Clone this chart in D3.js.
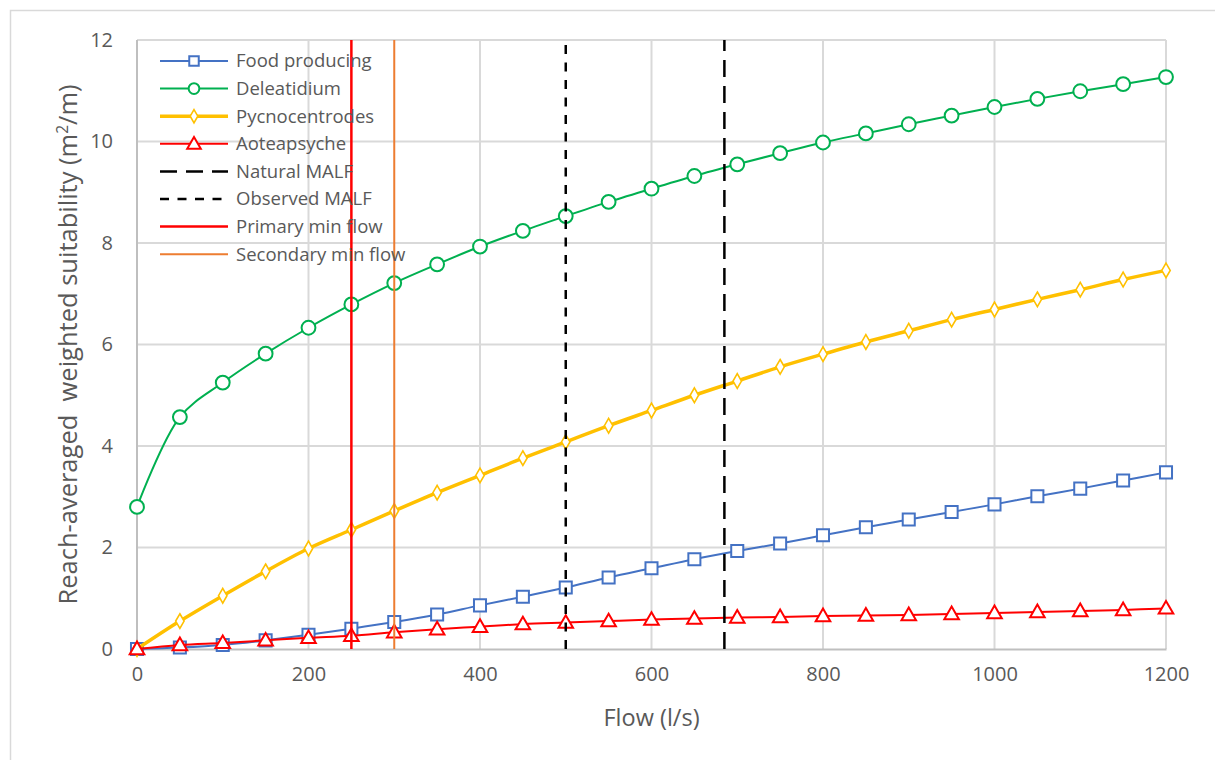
<!DOCTYPE html>
<html>
<head>
<meta charset="utf-8">
<script src="https://cdn.jsdelivr.net/npm/d3@7"></script>
<style>
  html, body { margin: 0; padding: 0; background: #fff; }
  svg { display: block; }
  text { font-family: "Open Sans", "Liberation Sans", sans-serif; fill: #595959; white-space: pre; }
</style>
</head>
<body>
<svg id="chart" width="1215" height="760"></svg>
<script>
// Flow steps (l/s)
const flows = [0, 50, 100, 150, 200, 250, 300, 350, 400, 450, 500, 550, 600,
               650, 700, 750, 800, 850, 900, 950, 1000, 1050, 1100, 1150, 1200];

// Reach-averaged weighted suitability (m2/m) per taxon
const foodProducing = [0, 0.03, 0.08, 0.17, 0.28, 0.40, 0.53, 0.68, 0.86, 1.03, 1.21, 1.41, 1.59,
                       1.77, 1.93, 2.08, 2.24, 2.40, 2.55, 2.70, 2.85, 3.01, 3.16, 3.32, 3.48];
const deleatidium   = [2.80, 4.57, 5.25, 5.82, 6.33, 6.79, 7.21, 7.58, 7.93, 8.24, 8.53, 8.81, 9.07,
                       9.32, 9.55, 9.77, 9.98, 10.16, 10.34, 10.51, 10.68, 10.84, 10.99, 11.13, 11.27];
const pycnocentrodes = [0, 0.55, 1.05, 1.53, 1.98, 2.35, 2.72, 3.08, 3.42, 3.76, 4.08, 4.40, 4.70,
                        5.00, 5.28, 5.56, 5.81, 6.05, 6.27, 6.49, 6.69, 6.89, 7.08, 7.28, 7.46];
const aoteapsyche   = [0, 0.08, 0.12, 0.17, 0.22, 0.26, 0.33, 0.39, 0.44, 0.49, 0.52, 0.55, 0.58,
                       0.60, 0.62, 0.63, 0.65, 0.66, 0.67, 0.69, 0.71, 0.73, 0.75, 0.77, 0.80];

// Reference flows (l/s)
const naturalMALF = 685;
const observedMALF = 500;
const primaryMinFlow = 250;
const secondaryMinFlow = 300;

// Axis ticks
const xTicks = [0, 200, 400, 600, 800, 1000, 1200];
const yTicks = [0, 2, 4, 6, 8, 10, 12];

const series = [
  { name: "Food producing", values: foodProducing, color: "#4472C4", marker: "square",   width: 2,   size: 145, msize: 90, mstroke: 2 },
  { name: "Deleatidium",    values: deleatidium,   color: "#00B050", marker: "circle",   width: 2,   size: 150, msize: 90, mstroke: 2 },
  { name: "Pycnocentrodes", values: pycnocentrodes, color: "#FFC000", marker: "diamond", width: 3.5, size: 62,  msize: 50, mstroke: 1.6 },
  { name: "Aoteapsyche",    values: aoteapsyche,   color: "#FF0000", marker: "triangle", width: 2,   size: 92,  msize: 80, mstroke: 2 }
];

const refLines = [
  { name: "Natural MALF",       x: naturalMALF,      color: "#000000", width: 2.5, dash: "17,9" },
  { name: "Observed MALF",      x: observedMALF,     color: "#000000", width: 2.5, dash: "9,8.5" },
  { name: "Primary min flow",   x: primaryMinFlow,   color: "#FF0000", width: 2.5, dash: null },
  { name: "Secondary min flow", x: secondaryMinFlow, color: "#ED7D31", width: 2,   dash: null }
];

const symbolType = {
  square: d3.symbolSquare, circle: d3.symbolCircle,
  diamond: d3.symbolDiamond, triangle: d3.symbolTriangle
};

const svg = d3.select("#chart");

// chart frame
svg.append("rect")
  .attr("x", 10.5).attr("y", 10.5)
  .attr("width", 1215).attr("height", 760)
  .attr("fill", "#fff").attr("stroke", "#D9D9D9").attr("stroke-width", 1.5);

const plot = { left: 137, right: 1166, top: 40, bottom: 649 };

const x = d3.scaleLinear().domain([0, 1200]).range([plot.left, plot.right]);
const y = d3.scaleLinear().domain([0, 12]).range([plot.bottom, plot.top]);

// gridlines
const grid = svg.append("g");
grid.selectAll("line.h").data(yTicks.filter(d => d !== 0)).join("line")
  .attr("x1", plot.left).attr("x2", plot.right)
  .attr("y1", d => y(d)).attr("y2", d => y(d))
  .attr("stroke", "#D9D9D9").attr("stroke-width", 2);
grid.selectAll("line.v").data(xTicks).join("line")
  .attr("y1", plot.top).attr("y2", plot.bottom)
  .attr("x1", d => x(d)).attr("x2", d => x(d))
  .attr("stroke", d => d === 0 ? "#BFBFBF" : "#D9D9D9").attr("stroke-width", 2);

// axes
const xAxis = svg.append("g")
  .attr("transform", `translate(0,${plot.bottom})`)
  .call(d3.axisBottom(x).tickValues(xTicks).tickSize(0).tickPadding(18).tickFormat(d3.format("d")));
xAxis.select(".domain").attr("stroke", "#BFBFBF").attr("stroke-width", 2);
xAxis.selectAll("text").style("font-size", "20px").attr("fill", "#595959");

const yAxis = svg.append("g")
  .attr("transform", `translate(${plot.left},0)`)
  .call(d3.axisLeft(y).tickValues(yTicks).tickSize(0).tickPadding(24).tickFormat(d3.format("d")));
yAxis.select(".domain").remove();
yAxis.selectAll("text").style("font-size", "20px").attr("fill", "#595959");

// axis titles
svg.append("text")
  .attr("x", (plot.left + plot.right) / 2).attr("y", 726)
  .attr("text-anchor", "middle").style("font-size", "23.5px")
  .text("Flow (l/s)");

const yTitle = svg.append("text")
  .attr("transform", `translate(77,${(plot.top + plot.bottom) / 2}) rotate(-90)`)
  .attr("text-anchor", "middle").style("font-size", "25.5px");
yTitle.append("tspan").text("Reach-averaged  weighted suitability (m");
yTitle.append("tspan").attr("dy", -9).style("font-size", "15.5px").text("2");
yTitle.append("tspan").attr("dy", 9).text("/m)");

const line = d3.line()
  .x(d => x(d[0])).y(d => y(d[1]))
  .curve(d3.curveCatmullRom.alpha(0.5));

// series
series.forEach(s => {
  const pts = flows.map((f, i) => [f, s.values[i]]);
  const g = svg.append("g");
  g.append("path").datum(pts)
    .attr("d", line).attr("fill", "none")
    .attr("stroke", s.color).attr("stroke-width", s.width);
  g.selectAll("path.m").data(pts).join("path")
    .attr("class", "m")
    .attr("transform", d => `translate(${x(d[0])},${y(d[1]) + (s.marker === "triangle" ? 1 : 0)})`)
    .attr("d", d3.symbol().type(symbolType[s.marker]).size(s.size))
    .attr("fill", "#fff").attr("stroke", s.color).attr("stroke-width", s.mstroke);
});

// reference flow lines
refLines.forEach(r => {
  svg.append("line")
    .attr("x1", x(r.x)).attr("x2", x(r.x))
    .attr("y1", y(0)).attr("y2", y(12))
    .attr("stroke", r.color).attr("stroke-width", r.width)
    .attr("stroke-dasharray", r.dash);
});

// legend
const legend = svg.append("g");
const legendItems = series.map(s => ({ ...s, type: "series" }))
  .concat(refLines.map(r => ({ ...r, type: "ref" })));
legendItems.forEach((it, i) => {
  const ly = 61 + i * 27.6;
  const g = legend.append("g").attr("transform", `translate(0,${ly})`);
  g.append("line")
    .attr("x1", 160).attr("x2", 228).attr("y1", 0).attr("y2", 0)
    .attr("stroke", it.color).attr("stroke-width", it.width)
    .attr("stroke-dasharray", it.type === "ref" ? it.dash : null);
  if (it.type === "series") {
    g.append("path")
      .attr("transform", `translate(194,${it.marker === "triangle" ? 1 : 0})`)
      .attr("d", d3.symbol().type(symbolType[it.marker]).size(it.msize))
      .attr("fill", "#fff").attr("stroke", it.color).attr("stroke-width", it.mstroke);
  }
  g.append("text")
    .attr("x", 236).attr("y", 0).attr("dy", "0.35em")
    .style("font-size", "18.5px")
    .text(it.name);
});
</script>
</body>
</html>
